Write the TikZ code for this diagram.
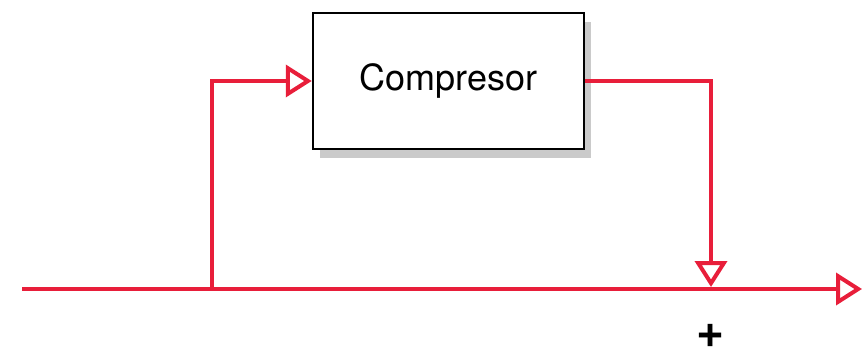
\documentclass[tikz,border=0pt]{standalone}
\usepackage{fontspec}
\setmainfont{TeX Gyre Heros}
\usetikzlibrary{arrows.meta,shadows}
\definecolor{sigred}{RGB}{232,30,58}
\tikzset{
  sig/.style={draw=sigred,line width=4pt},
  sigarrow/.style={sig,-{Triangle[open,length=26pt,width=32pt,line width=4pt]}},
  block/.style={draw=black,line width=2.5pt,fill=white,minimum width=271pt,minimum height=136pt,
    drop shadow={shadow xshift=7pt,shadow yshift=-9pt,opacity=0.35,fill=black!60},
    font=\fontsize{36}{40}\selectfont}
}
\begin{document}
\begin{tikzpicture}[x=1pt,y=-1pt]
\useasboundingbox (0,0) rectangle (862,358);
\node[block] (comp) at (448.5,81) {Compresor};
\coordinate (in) at (22,289);\coordinate (split) at (212,289);
\coordinate (sum) at (711,289);\coordinate (out) at (862,289);
\draw[sig] (in)--(split);\draw[sigarrow] (split)--(sum)--(out);
\draw[sigarrow] (split)--(split|-comp.west)--(comp.west);
\draw[sigarrow,shorten >=2pt] (comp.east)--(sum|-comp.east)--(sum);
\node[font=\fontsize{48}{48}\selectfont\bfseries,inner sep=0pt] (plus) at (711,336) {+};
\end{tikzpicture}
\end{document}
